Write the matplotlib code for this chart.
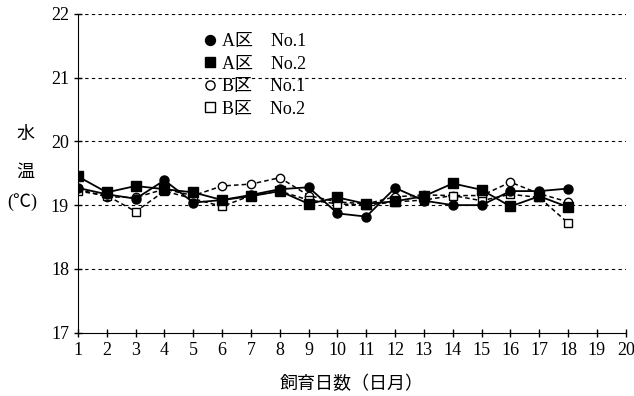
import matplotlib
matplotlib.use('Agg')
import matplotlib.pyplot as plt

plt.rcParams['font.family'] = ['Liberation Serif', 'Noto Sans CJK JP']

days = list(range(1, 19))
a_no1 = [19.27, 19.17, 19.1, 19.39, 19.04, 19.08, 19.16, 19.25, 19.28, 18.87, 18.82, 19.27,
         19.07, 19.0, 19.0, 19.22, 19.22, 19.26]
a_no2 = [19.45, 19.2, 19.3, 19.25, 19.2, 19.08, 19.14, 19.22, 19.02, 19.12, 19.02, 19.06,
         19.14, 19.34, 19.24, 18.98, 19.14, 18.97]
b_no1 = [19.25, 19.13, 19.12, 19.25, 19.15, 19.3, 19.33, 19.43, 19.15, 19.05, 19.02, 19.13,
         19.16, 19.15, 19.15, 19.36, 19.18, 19.05]
b_no2 = [19.22, 19.15, 18.9, 19.22, 19.1, 18.98, 19.15, 19.22, 19.08, 19.02, 19.0, 19.05,
         19.08, 19.15, 19.07, 19.17, 19.12, 18.72]
labels = ['A区　No.1', 'A区　No.2', 'B区　No.1', 'B区　No.2']

fig = plt.figure(figsize=(6.34, 3.96), dpi=100)
ax = fig.add_axes([0.123, 0.16, 0.864, 0.805])

# 網目線
for yv in [18, 19, 20, 21, 22]:
    ax.plot([1, 20], [yv, yv], color='black', lw=0.8, ls=(0, (3, 3)), zorder=1)

ax.plot(days, a_no1, '-', color='black', lw=1.3, marker='o', ms=6.5, label=labels[0], zorder=3)
ax.plot(days, a_no2, '-', color='black', lw=1.3, marker='s', ms=6.5, label=labels[1], zorder=3)
ax.plot(days, b_no1, '--', color='black', lw=1.1, dashes=(3, 2), marker='o', ms=6, mfc='white',
        label=labels[2], zorder=2)
ax.plot(days, b_no2, '--', color='black', lw=1.1, dashes=(3, 2), marker='s', ms=6, mfc='white',
        label=labels[3], zorder=2)

ax.set_xlim(1, 20)
ax.set_ylim(17, 22)
ax.set_xticks(range(1, 21))
ax.set_yticks(range(17, 23))
ax.spines['top'].set_visible(False)
ax.spines['right'].set_visible(False)
ax.tick_params(direction='inout', length=6, width=1, labelsize=13)
ax.set_xlabel('飼育日数（日月）', fontsize=13, labelpad=12)

fig.text(0.04, 0.66, '水', fontsize=13, ha='center', va='center')
fig.text(0.04, 0.565, '温', fontsize=13, ha='center', va='center')
fig.text(0.035, 0.49, '(℃)', fontsize=13, ha='center', va='center')

ax.legend(loc='upper left', bbox_to_anchor=(0.2, 0.99), frameon=False, handlelength=0.7,
          handletextpad=0.3, labelspacing=0.3, fontsize=13, markerscale=1.1)
for h in ax.get_legend().legend_handles:
    h.set_linestyle('none')

fig.savefig('out.png', dpi=100)
